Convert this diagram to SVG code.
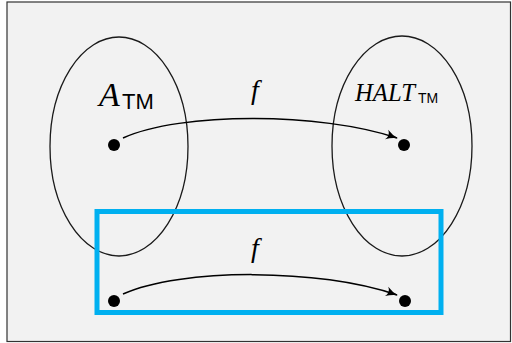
<svg xmlns="http://www.w3.org/2000/svg" width="512" height="343" viewBox="0 0 512 343">
<style>
.set{fill:none;stroke:#1a1a1a;stroke-width:1.3}
.dot{fill:#000}
.arr{fill:none;stroke:#000;stroke-width:1.5}
.math{font-family:"Liberation Serif","DejaVu Serif",serif;font-style:italic;fill:#000}
.sans{font-family:"Liberation Sans","DejaVu Sans",sans-serif;fill:#000}
</style>
<defs>
<marker id="ah" markerWidth="14" markerHeight="12" refX="11" refY="6" orient="auto" markerUnits="userSpaceOnUse">
<path d="M0,1 Q6,5 12,6 Q6,7 0,11 Q4,6 0,1 Z" fill="#000"/>
</marker>
</defs>
<rect x="0" y="0" width="512" height="343" fill="#ffffff"/>
<rect x="7" y="2" width="503.5" height="339.5" fill="#f2f2f2" stroke="#333" stroke-width="1.2"/>
<g id="A_TM">
<ellipse class="set" cx="119" cy="146.5" rx="69" ry="109.5"/>
<text class="math" x="99" y="106" font-size="34">A</text>
<text class="sans" x="122" y="109" font-size="22">TM</text>
<circle class="dot" cx="114" cy="145" r="6"/>
</g>
<g id="HALT_TM">
<ellipse class="set" cx="402" cy="146" rx="70" ry="110"/>
<text class="math" x="355" y="101" font-size="25" textLength="60" lengthAdjust="spacingAndGlyphs">HALT</text>
<text class="sans" x="418" y="103" font-size="14">TM</text>
<circle class="dot" cx="404" cy="145" r="6"/>
</g>
<g id="box">
<rect x="97" y="211.5" width="344" height="101" fill="none" stroke="#00b0f0" stroke-width="5"/>
<circle class="dot" cx="114" cy="301" r="6"/>
<circle class="dot" cx="405" cy="301" r="6"/>
</g>
<g id="connectors">
<path class="arr" d="M123,138 C180,112 320,112 397,138" marker-end="url(#ah)"/>
<text class="math" x="251" y="99" font-size="28">f</text>
<path class="arr" d="M123,294 C180,268 320,268 397,295" marker-end="url(#ah)"/>
<text class="math" x="251" y="257" font-size="28">f</text>
</g>
</svg>
